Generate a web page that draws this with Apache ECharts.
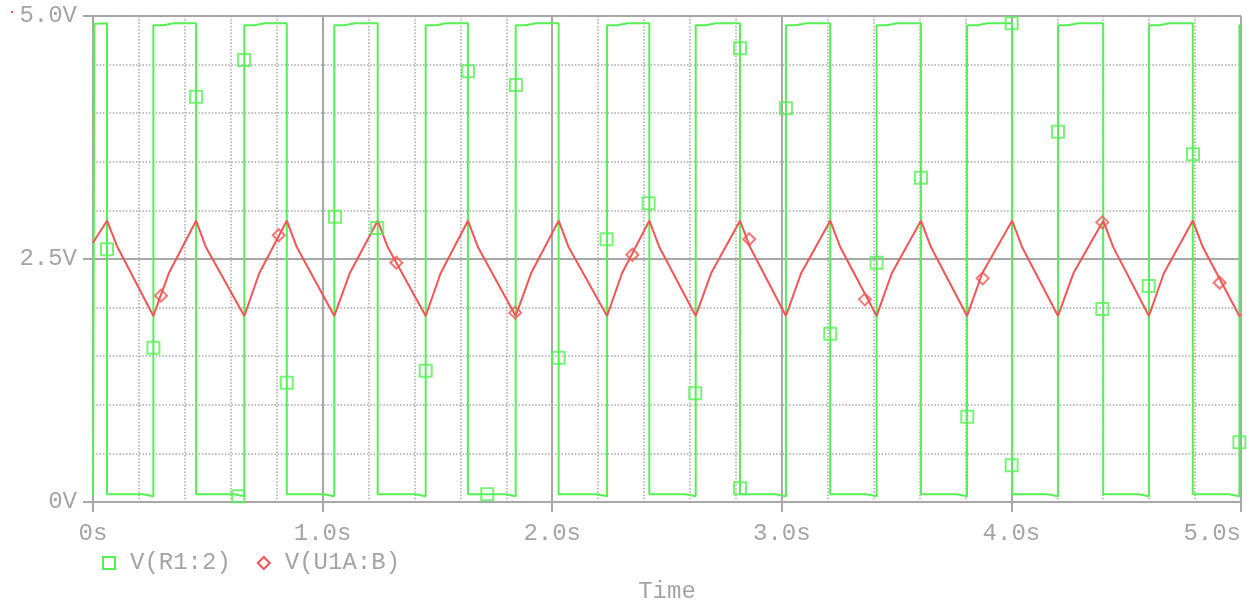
<!DOCTYPE html>
<html>
<head>
<meta charset="utf-8">
<title>V(R1:2) / V(U1A:B)</title>
<script src="https://cdn.jsdelivr.net/npm/echarts@6.0.0/dist/echarts.min.js"></script>
<style>
  html, body { margin: 0; padding: 0; background: #fff; }
  #chart { width: 1247px; height: 604px; }
</style>
</head>
<body>
<div id="chart"></div>
<script>
// series names (legend)
const seriesNames = ["V(R1:2)", "V(U1A:B)"];

// V(R1:2): square wave, [time s, volts]
const greenWave = [
  [0, 0.06], [0.006, 4.92], [0.061, 4.925], [0.061, 0.08], [0.218, 0.08], [0.263, 0.06],
  [0.263, 4.905], [0.307, 4.905], [0.352, 4.925], [0.449, 4.925], [0.449, 0.08], [0.614, 0.08], [0.659, 0.06],
  [0.659, 4.905], [0.703, 4.905], [0.748, 4.925], [0.844, 4.925], [0.844, 0.08], [1.006, 0.08], [1.051, 0.06],
  [1.051, 4.905], [1.095, 4.905], [1.140, 4.925], [1.240, 4.925], [1.240, 0.08], [1.404, 0.08], [1.449, 0.06],
  [1.449, 4.905], [1.493, 4.905], [1.538, 4.925], [1.633, 4.925], [1.633, 0.08], [1.796, 0.08], [1.841, 0.06],
  [1.841, 4.905], [1.885, 4.905], [1.930, 4.925], [2.028, 4.925], [2.028, 0.08], [2.194, 0.08], [2.239, 0.06],
  [2.239, 4.905], [2.283, 4.905], [2.328, 4.925], [2.423, 4.925], [2.423, 0.08], [2.580, 0.08], [2.625, 0.06],
  [2.625, 4.905], [2.669, 4.905], [2.714, 4.925], [2.818, 4.925], [2.818, 0.08], [2.973, 0.08], [3.018, 0.06],
  [3.018, 4.905], [3.062, 4.905], [3.107, 4.925], [3.211, 4.925], [3.211, 0.08], [3.368, 0.08], [3.413, 0.06],
  [3.413, 4.905], [3.457, 4.905], [3.502, 4.925], [3.606, 4.925], [3.606, 0.08], [3.762, 0.08], [3.807, 0.06],
  [3.807, 4.905], [3.851, 4.905], [3.896, 4.925], [4.003, 4.925], [4.003, 0.08], [4.158, 0.08], [4.203, 0.06],
  [4.203, 4.905], [4.247, 4.905], [4.292, 4.925], [4.400, 4.925], [4.400, 0.08], [4.554, 0.08], [4.599, 0.06],
  [4.599, 4.905], [4.643, 4.905], [4.688, 4.925], [4.790, 4.925], [4.790, 0.08], [4.948, 0.08], [4.993, 0.06],
  [4.993, 4.905], [5.0, 4.905]
];

// V(U1A:B): triangle wave, peaks / troughs (with the small bends on each ramp)
const redWave = [
  [0, 2.668], [0.061, 2.894], [0.107, 2.62], [0.263, 1.914], [0.330, 2.353], [0.449, 2.894],
  [0.492, 2.62], [0.659, 1.914], [0.724, 2.353], [0.844, 2.894], [0.888, 2.62], [1.051, 1.914],
  [1.118, 2.353], [1.240, 2.894], [1.284, 2.62], [1.449, 1.914], [1.514, 2.353], [1.633, 2.894],
  [1.677, 2.62], [1.841, 1.914], [1.908, 2.353], [2.028, 2.894], [2.072, 2.62], [2.239, 1.914],
  [2.304, 2.353], [2.423, 2.894], [2.467, 2.62], [2.625, 1.914], [2.692, 2.353], [2.818, 2.894],
  [2.862, 2.62], [3.018, 1.914], [3.084, 2.353], [3.211, 2.894], [3.255, 2.62], [3.413, 1.914],
  [3.479, 2.353], [3.606, 2.894], [3.650, 2.62], [3.807, 1.914], [3.873, 2.353], [4.003, 2.894],
  [4.047, 2.62], [4.203, 1.914], [4.270, 2.353], [4.400, 2.894], [4.444, 2.62], [4.599, 1.914],
  [4.664, 2.353], [4.790, 2.894], [4.834, 2.62], [4.993, 1.914], [5.0, 1.93]
];

// marker points (squares / diamonds) as drawn on the traces
const greenMarks = [
  [0.061, 2.60], [0.263, 1.588], [0.449, 4.17], [0.633, 0.06], [0.658, 4.547],
  [0.844, 1.228], [1.054, 2.935], [1.238, 2.82], [1.449, 1.351], [1.633, 4.431],
  [1.717, 0.079], [1.842, 4.29], [2.028, 1.485], [2.237, 2.703], [2.42, 3.073],
  [2.623, 1.118], [2.818, 0.141], [2.818, 4.667], [3.018, 4.05], [3.211, 1.732],
  [3.413, 2.462], [3.606, 3.337], [3.808, 0.878], [4.001, 4.925], [4.001, 0.377],
  [4.203, 3.81], [4.396, 1.986], [4.598, 2.222], [4.791, 3.577], [4.993, 0.614]
];
const redMarks = [
  [0.296, 2.123], [0.809, 2.744], [1.321, 2.462], [1.839, 1.948], [2.349, 2.544],
  [2.858, 2.703], [3.362, 2.085], [3.875, 2.301], [4.396, 2.877], [4.907, 2.256]
];

// axis ranges
const timeRange = [0, 5];
const voltRange = [0, 5];

const GREEN = "#55f055";
const RED = "#f45555";
const GRAY = "#a8a8a8";
const TEXT = "#a4a4a4";
const FONT = "'Liberation Mono', 'DejaVu Sans Mono', monospace";

const chart = echarts.init(document.getElementById("chart"));

// 虚线网格
const dotted = {
  show: true,
  lineStyle: { color: GRAY, width: 1.5, type: [1.5, 1.8] }
};
const solid = {
  show: true,
  lineStyle: { color: GRAY, width: 2 }
};

chart.setOption({
  animation: false,
  backgroundColor: "#fff",
  grid: { left: 93, right: 6, top: 16, bottom: 102, containLabel: false, outerBoundsMode: "none" },
  graphic: [
    { type: "rect", left: 11, top: 11, shape: { width: 2, height: 2 }, style: { fill: RED } }
  ],
  legend: {
    left: 97,
    top: 546,
    itemWidth: 12,
    itemHeight: 12,
    itemGap: 26,
    textStyle: { color: TEXT, fontFamily: FONT, fontSize: 24, padding: [0, 0, 0, 10] },
    data: [
      { name: seriesNames[0], icon: "rect",
        itemStyle: { color: "rgba(0,0,0,0)", borderColor: GREEN, borderWidth: 2 } },
      { name: seriesNames[1], icon: "diamond",
        itemStyle: { color: "rgba(0,0,0,0)", borderColor: RED, borderWidth: 2 } }
    ]
  },
  xAxis: [
    {
      type: "value",
      min: timeRange[0],
      max: timeRange[1],
      interval: 1,
      name: "Time",
      nameLocation: "middle",
      nameGap: 78,
      nameTextStyle: { color: TEXT, fontFamily: FONT, fontSize: 24 },
      axisLine: { show: true, lineStyle: { color: GRAY, width: 2 } },
      axisTick: { show: true, length: 10, lineStyle: { color: GRAY, width: 2 } },
      axisLabel: {
        color: TEXT, fontFamily: FONT, fontSize: 24, margin: 20,
        alignMaxLabel: "right",
        formatter: v => (v === 0 ? "0s" : v.toFixed(1) + "s")
      },
      splitLine: solid
    },
    {
      // 0.2s dotted grid + top border
      type: "value",
      position: "top",
      min: timeRange[0],
      max: timeRange[1],
      interval: 0.2,
      axisLine: { show: true, lineStyle: { color: GRAY, width: 2 } },
      axisTick: { show: false },
      axisLabel: { show: false },
      splitLine: dotted
    }
  ],
  yAxis: [
    {
      type: "value",
      min: voltRange[0],
      max: voltRange[1],
      interval: 2.5,
      axisLine: { show: true, lineStyle: { color: GRAY, width: 2 } },
      axisTick: { show: true, length: 10, lineStyle: { color: GRAY, width: 2 } },
      axisLabel: {
        color: TEXT, fontFamily: FONT, fontSize: 24, margin: 16,
        formatter: v => (v === 0 ? "0V" : v.toFixed(1) + "V")
      },
      splitLine: solid
    },
    {
      // 0.5V dotted grid + right border
      type: "value",
      position: "right",
      min: voltRange[0],
      max: voltRange[1],
      interval: 0.5,
      axisLine: { show: true, lineStyle: { color: GRAY, width: 2 } },
      axisTick: { show: false },
      axisLabel: { show: false },
      splitLine: dotted
    }
  ],
  series: [
    {
      name: seriesNames[0],
      type: "line",
      data: greenWave,
      symbol: "none",
      z: 3,
      lineStyle: { color: GREEN, width: 2 },
      itemStyle: { color: GREEN }
    },
    {
      name: seriesNames[1],
      type: "line",
      data: redWave,
      symbol: "none",
      z: 4,
      lineStyle: { color: RED, width: 2 },
      itemStyle: { color: RED }
    },
    {
      name: seriesNames[0],
      type: "scatter",
      data: greenMarks,
      symbol: "rect",
      symbolSize: 12,
      z: 5,
      itemStyle: { color: "rgba(0,0,0,0)", borderColor: GREEN, borderWidth: 2 }
    },
    {
      name: seriesNames[1],
      type: "scatter",
      data: redMarks,
      symbol: "diamond",
      symbolSize: 12,
      z: 5,
      itemStyle: { color: "rgba(0,0,0,0)", borderColor: RED, borderWidth: 2 }
    }
  ]
});
</script>
</body>
</html>
